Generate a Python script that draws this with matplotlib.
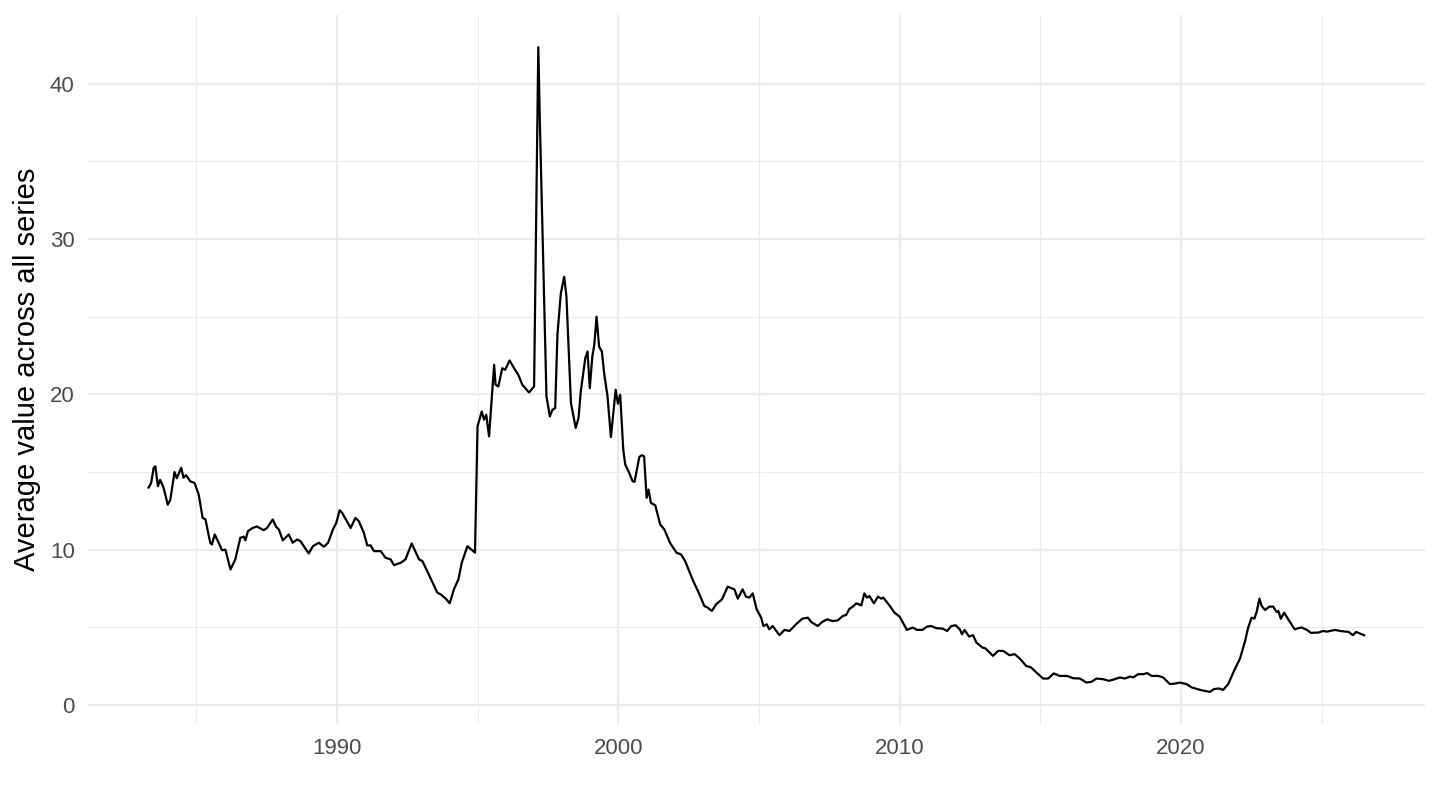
import matplotlib

matplotlib.use("Agg")
import matplotlib.pyplot as plt
from matplotlib.ticker import MultipleLocator

plt.rcParams["font.family"] = ["Liberation Sans", "DejaVu Sans"]

# values (decimal year, average value)
years = [
    1983.31, 1983.40, 1983.49, 1983.55, 1983.64, 1983.72, 1983.84, 1983.99, 1984.08, 1984.23,
    1984.31, 1984.47, 1984.55, 1984.64, 1984.79, 1984.94, 1985.09, 1985.23, 1985.33, 1985.50,
    1985.56, 1985.66, 1985.80, 1985.92, 1986.04, 1986.22, 1986.39, 1986.57, 1986.69, 1986.75,
    1986.84, 1987.01, 1987.16, 1987.25, 1987.40, 1987.52, 1987.72, 1987.84, 1987.94, 1988.08,
    1988.17, 1988.29, 1988.43, 1988.59, 1988.71, 1988.86, 1989.00, 1989.15, 1989.36, 1989.54,
    1989.69, 1989.86, 1989.98, 1990.10, 1990.19, 1990.49, 1990.66, 1990.78, 1990.96, 1991.08,
    1991.20, 1991.32, 1991.56, 1991.73, 1991.91, 1992.03, 1992.27, 1992.44, 1992.66, 1992.92,
    1993.04, 1993.21, 1993.57, 1993.69, 1993.87, 1994.01, 1994.16, 1994.32, 1994.44, 1994.64,
    1994.91, 1995.00, 1995.15, 1995.23, 1995.31, 1995.41, 1995.59, 1995.64, 1995.74, 1995.88,
    1995.98, 1996.14, 1996.30, 1996.45, 1996.59, 1996.83, 1997.01, 1997.16, 1997.22, 1997.45,
    1997.57, 1997.66, 1997.76, 1997.84, 1997.96, 1998.08, 1998.16, 1998.32, 1998.49, 1998.59,
    1998.67, 1998.83, 1998.91, 1998.99, 1999.08, 1999.15, 1999.23, 1999.32, 1999.42, 1999.50,
    1999.62, 1999.74, 1999.91, 1999.99, 2000.07, 2000.18, 2000.25, 2000.39, 2000.51, 2000.58,
    2000.75, 2000.84, 2000.92, 2001.01, 2001.08, 2001.16, 2001.32, 2001.49, 2001.64, 2001.84,
    2002.07, 2002.23, 2002.38, 2002.64, 2002.86, 2003.06, 2003.18, 2003.33, 2003.48, 2003.69,
    2003.89, 2004.13, 2004.25, 2004.42, 2004.54, 2004.66, 2004.78, 2004.92, 2005.08, 2005.16,
    2005.28, 2005.37, 2005.49, 2005.73, 2005.91, 2006.09, 2006.32, 2006.54, 2006.74, 2006.86,
    2007.09, 2007.25, 2007.42, 2007.62, 2007.80, 2007.98, 2008.10, 2008.22, 2008.34, 2008.46,
    2008.64, 2008.75, 2008.84, 2008.93, 2009.09, 2009.23, 2009.35, 2009.42, 2009.61, 2009.82,
    2010.00, 2010.26, 2010.47, 2010.62, 2010.81, 2010.97, 2011.13, 2011.31, 2011.54, 2011.69,
    2011.84, 2011.99, 2012.14, 2012.22, 2012.31, 2012.47, 2012.61, 2012.73, 2012.94, 2013.06,
    2013.32, 2013.50, 2013.68, 2013.91, 2014.09, 2014.27, 2014.50, 2014.68, 2014.86, 2015.10,
    2015.28, 2015.48, 2015.69, 2015.95, 2016.17, 2016.41, 2016.64, 2016.82, 2017.00, 2017.23,
    2017.44, 2017.65, 2017.83, 2018.01, 2018.19, 2018.30, 2018.48, 2018.66, 2018.80, 2018.96,
    2019.19, 2019.37, 2019.61, 2019.79, 2019.96, 2020.20, 2020.38, 2020.68, 2021.03, 2021.17,
    2021.36, 2021.50, 2021.68, 2021.86, 2022.10, 2022.28, 2022.39, 2022.51, 2022.61, 2022.69,
    2022.79, 2022.87, 2022.99, 2023.14, 2023.28, 2023.40, 2023.46, 2023.55, 2023.67, 2023.82,
    2024.04, 2024.28, 2024.48, 2024.62, 2024.89, 2025.05, 2025.19, 2025.30, 2025.48, 2025.66,
    2025.96, 2026.11, 2026.23, 2026.37, 2026.51,
]
values = [
    14.0, 14.3, 15.27, 15.37, 14.08, 14.5, 14.0, 12.9, 13.2, 15.0,
    14.6, 15.27, 14.63, 14.8, 14.4, 14.3, 13.55, 12.05, 11.95, 10.45,
    10.34, 10.98, 10.45, 9.97, 10.0, 8.73, 9.37, 10.77, 10.84, 10.6,
    11.2, 11.4, 11.5, 11.4, 11.26, 11.4, 11.95, 11.48, 11.3, 10.6,
    10.77, 10.98, 10.45, 10.66, 10.55, 10.13, 9.76, 10.23, 10.45, 10.19,
    10.45, 11.3, 11.73, 12.54, 12.37, 11.4, 12.05, 11.84, 11.09, 10.28,
    10.28, 9.91, 9.91, 9.48, 9.38, 9.01, 9.16, 9.38, 10.4, 9.38,
    9.27, 8.63, 7.24, 7.13, 6.85, 6.55, 7.45, 8.09, 9.16, 10.23,
    9.81, 17.94, 18.9, 18.37, 18.69, 17.3, 21.9, 20.62, 20.51, 21.68,
    21.58, 22.18, 21.68, 21.26, 20.62, 20.12, 20.51, 42.34, 37.2, 19.87,
    18.58, 19.0, 19.12, 23.83, 26.5, 27.57, 26.3, 19.44, 17.84, 18.48,
    20.19, 22.33, 22.75, 20.4, 22.43, 23.19, 25.0, 23.08, 22.75, 21.36,
    19.87, 17.25, 20.3, 19.4, 19.97, 16.44, 15.48, 14.95, 14.41, 14.37,
    15.97, 16.08, 16.01, 13.34, 13.87, 13.02, 12.85, 11.63, 11.3, 10.45,
    9.81, 9.7, 9.27, 8.09, 7.24, 6.38, 6.27, 6.06, 6.49, 6.81,
    7.62, 7.45, 6.85, 7.45, 6.98, 6.92, 7.19, 6.17, 5.63, 5.09,
    5.2, 4.88, 5.09, 4.5, 4.84, 4.77, 5.2, 5.56, 5.63, 5.35,
    5.09, 5.35, 5.52, 5.41, 5.45, 5.73, 5.8, 6.2, 6.34, 6.55,
    6.42, 7.19, 6.92, 7.02, 6.55, 6.98, 6.85, 6.92, 6.49, 5.95,
    5.7, 4.84, 4.99, 4.84, 4.84, 5.05, 5.09, 4.95, 4.92, 4.77,
    5.09, 5.14, 4.88, 4.56, 4.84, 4.41, 4.5, 4.03, 3.71, 3.64,
    3.17, 3.49, 3.49, 3.21, 3.28, 3.0, 2.52, 2.42, 2.1, 1.71,
    1.71, 2.04, 1.88, 1.88, 1.73, 1.71, 1.45, 1.5, 1.71, 1.67,
    1.56, 1.67, 1.78, 1.71, 1.84, 1.78, 1.99, 1.99, 2.06, 1.88,
    1.88, 1.78, 1.35, 1.39, 1.45, 1.35, 1.14, 0.98, 0.85, 1.03,
    1.07, 0.98, 1.35, 2.1, 3.0, 4.13, 4.99, 5.63, 5.56, 5.99,
    6.85, 6.38, 6.12, 6.34, 6.34, 5.99, 6.06, 5.56, 5.95, 5.5,
    4.88, 5.0, 4.84, 4.65, 4.67, 4.77, 4.73, 4.77, 4.84, 4.77,
    4.71, 4.5, 4.71, 4.6, 4.5,
]

y_label = "Average value across all series"

fig = plt.figure(figsize=(14.4, 8.1), dpi=100)
ax = fig.add_axes([0.061, 0.106, 0.9285, 0.8755])

ax.plot(years, values, color="black", lw=1.6, solid_joinstyle="round")
ax.margins(x=0.05, y=0.05)

ax.xaxis.set_major_locator(MultipleLocator(10))
ax.xaxis.set_minor_locator(MultipleLocator(5))
ax.yaxis.set_major_locator(MultipleLocator(10))
ax.yaxis.set_minor_locator(MultipleLocator(5))
ax.grid(which="major", color="#EBEBEB", lw=1.6)
ax.grid(which="minor", color="#EBEBEB", lw=0.8)
ax.set_axisbelow(True)
for s in ax.spines.values():
    s.set_visible(False)
ax.tick_params(which="both", length=0, labelsize=16, labelcolor="#4D4D4D")
ax.tick_params(axis="x", pad=10)
ax.tick_params(axis="y", pad=9.5)
ax.set_ylabel(y_label, fontsize=21, color="black")
ax.yaxis.set_label_coords(-0.0353, 0.5)

fig.savefig("out.png", dpi=100)
